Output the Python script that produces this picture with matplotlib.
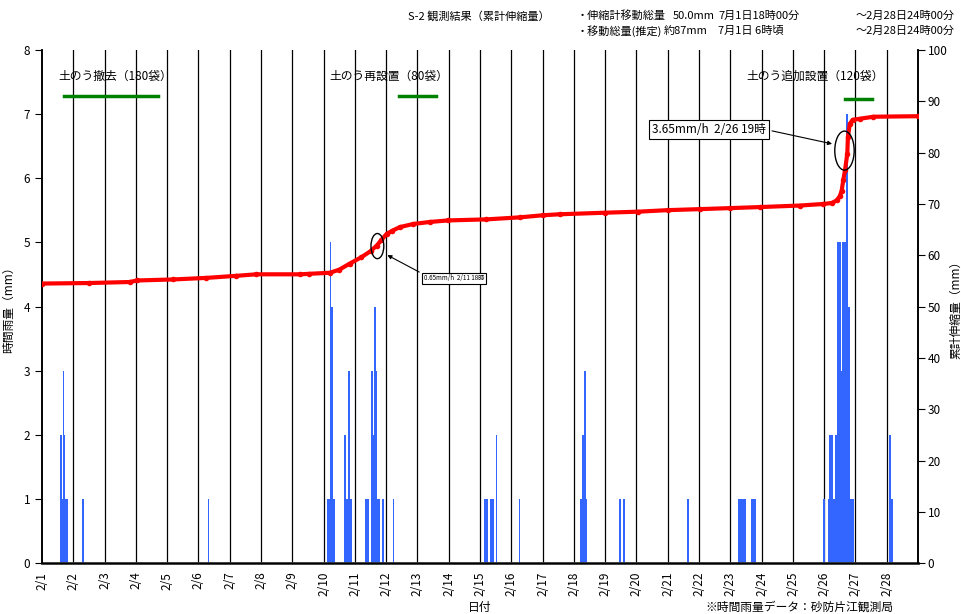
import numpy as np
import matplotlib
matplotlib.use('Agg')
import matplotlib.pyplot as plt
from matplotlib.patches import Ellipse

plt.rcParams['font.family'] = ['Noto Sans CJK JP', 'DejaVu Sans']

# 日付ラベル (2/1 ~ 2/28)
day_labels = [f"2/{d}" for d in range(1, 29)]

# 時間雨量 (日インデックス, 時, mm)
rain_day = ([0] * 6 + [1, 5]
            + [9] * 12
            + [10] * 11 + [11]
            + [14] * 7 + [15]
            + [17] * 5 + [18, 18, 20]
            + [22] * 10
            + [24] + [25] * 21
            + [27] * 3)
rain_hour = ([14, 15, 16, 17, 18, 19] + [7, 7]
             + [3, 4, 5, 6, 7, 8, 16, 17, 18, 19, 20, 21]
             + [8, 9, 10, 12, 13, 14, 15, 16, 17, 18, 21] + [5]
             + [3, 4, 5, 8, 9, 10, 12] + [6]
             + [5, 6, 7, 8, 9] + [11, 14, 15]
             + [6, 7, 8, 9, 10, 11, 16, 17, 18, 19]
             + [23] + [0, 3, 4, 5, 6, 7, 8, 9, 10, 11, 12, 13, 14, 15, 16, 17, 18, 19, 20, 21, 22]
             + [2, 3, 4])
rain_mm = ([2, 1, 3, 2, 1, 1] + [1, 1]
           + [1, 1, 5, 4, 1, 1, 2, 1, 1, 3, 1, 1]
           + [1, 1, 1, 3, 3, 2, 4, 3, 1, 1, 1] + [1]
           + [1, 1, 1, 1, 1, 1, 2] + [1]
           + [1, 2, 2, 3, 1] + [1, 1, 1]
           + [1] * 10
           + [1] + [1, 1, 2, 2, 2, 1, 2, 2, 5, 5, 5, 3, 5, 5, 5, 7, 4, 4, 1, 1, 1]
           + [2, 1, 1])

# 累計伸縮量 (日インデックス, mm)
disp_day = [0, 1.5, 2.8, 3.05, 4.2, 5.25, 6.2, 6.85, 8.25, 8.55, 9.2, 9.5,
            9.84, 10.2, 10.5, 10.7, 10.85, 11.02, 11.2, 11.44, 11.86, 12.4,
            12.98, 14.2, 15.28, 16.0, 16.56, 18.0, 19.05, 20.0, 21.03, 22.0,
            22.95, 24.23, 24.97, 25.25, 25.4, 25.5, 25.56, 25.61, 25.67,
            25.74, 25.76, 25.82, 25.91, 26.14, 26.57, 28.0]
disp_mm = [54.5, 54.6, 54.8, 55.1, 55.3, 55.6, 56.0, 56.3, 56.3, 56.4, 56.6,
           57.2, 58.4, 59.6, 60.8, 61.9, 63.0, 64.2, 64.8, 65.5, 66.1, 66.5,
           66.8, 67.0, 67.4, 67.8, 68.0, 68.3, 68.5, 68.8, 69.0, 69.2, 69.4,
           69.7, 70.0, 70.2, 70.7, 71.5, 72.6, 74.6, 76.7, 79.8, 83.0, 85.6,
           86.4, 86.6, 87.0, 87.1]

# 土のう作業の期間 (日インデックス)
work_labels = ['土のう撤去（180袋）', '土のう再設置（80袋）', '土のう追加設置（120袋）']
work_start = [0.70, 11.41, 25.66]
work_end = [3.71, 12.59, 26.53]

W, H = 962, 614
fig = plt.figure(figsize=(W / 100, H / 100), dpi=100)
ax = fig.add_axes([42 / W, 1 - 563.3 / H, 876 / W, (563.3 - 50) / H])
ax2 = ax.twinx()

# 日ごとの縦線
for d in range(1, 28):
    ax.axvline(d, color='black', lw=0.9, zorder=1)

rain_x = np.array(rain_day) + np.array(rain_hour) / 24.0
ax.bar(rain_x, rain_mm, width=1 / 24, align='edge', color='#3366FF',
       linewidth=0, zorder=2)

ax.set_xlim(0, 28)
ax.set_ylim(0, 8)
ax.set_yticks(range(0, 9))
ax.set_xticks(range(0, 28))
ax.set_xticklabels(day_labels, rotation=90, fontsize=8.5)
ax.tick_params(axis='x', length=0, pad=6)
ax.tick_params(axis='y', direction='out', length=5, labelsize=8.5)
ax.set_ylabel('時間雨量（mm）', fontsize=8.5)
ax.yaxis.set_label_coords(-0.031, 0.5)

ax2.set_ylim(0, 100)
ax2.set_yticks(range(0, 101, 10))
ax2.tick_params(axis='y', direction='out', length=5, labelsize=8.5, pad=2)
ax2.set_ylabel('累計伸縮量（mm）', fontsize=8.5, rotation=90)
ax2.yaxis.set_label_coords(1.036, 0.5)

ax2.plot(disp_day, disp_mm, color='#FF0000', lw=3, marker='o', ms=4,
         mew=0, zorder=3)

for a in (ax, ax2):
    a.spines['top'].set_visible(False)
    a.spines['left'].set_linewidth(1.2)
    a.spines['right'].set_linewidth(1.2)
ax.spines['bottom'].set_linewidth(2)
ax.spines['bottom'].set_color('#333333')

# 土のう作業
ax2.plot([work_start[0], work_end[0]], [91, 91], color='#008000', lw=2.5)
ax2.plot([work_start[1], work_end[1]], [91, 91], color='#008000', lw=2.5)
ax2.plot([work_start[2], work_end[2]], [90.5, 90.5], color='#008000', lw=2.5)
ax2.text(0.52, 94.8, work_labels[0], fontsize=8.5, va='center', ha='left')
ax2.text(9.2, 94.8, work_labels[1], fontsize=8.5, va='center', ha='left')
ax2.text(22.5, 94.8, work_labels[2], fontsize=8.5, va='center', ha='left')

# 変位速度の注記
ax2.add_patch(Ellipse((10.72, 61.8), 0.41, 4.9, fill=False, ec='black', lw=1, zorder=4))
ax2.add_patch(Ellipse((25.65, 80.4), 0.62, 7.6, fill=False, ec='black', lw=1, zorder=4))
ax2.annotate('0.65mm/h  2/11 18時', xy=(10.96, 60.3), xytext=(12.2, 55.5),
             fontsize=4.5, ha='left', va='center',
             bbox=dict(boxstyle='square,pad=0.25', fc='white', ec='black', lw=0.8),
             arrowprops=dict(arrowstyle='-|>', color='black', lw=0.8,
                             relpos=(0, 1), mutation_scale=6))
ax2.annotate('3.65mm/h  2/26 19時', xy=(25.34, 81.6), xytext=(19.5, 84.5),
             fontsize=8.5, ha='left', va='center',
             bbox=dict(boxstyle='square,pad=0.25', fc='white', ec='black', lw=0.8),
             arrowprops=dict(arrowstyle='-|>', color='black', lw=0.8,
                             relpos=(1, 0.5), mutation_scale=6))

# 見出し
fs = 8
y1, y2 = 1 - 16 / H, 1 - 31 / H
fig.text(408 / W, y1, 'S-2 観測結果（累計伸縮量）', fontsize=fs, va='center', ha='left')
fig.text(577 / W, y1, '・伸縮計移動総量', fontsize=fs, va='center', ha='left')
fig.text(673 / W, y1, '50.0mm', fontsize=fs, va='center', ha='left')
fig.text(718 / W, y1, '7月1日18時00分', fontsize=fs, va='center', ha='left')
fig.text(955 / W, y1, '～2月28日24時00分', fontsize=fs, va='center', ha='right')
fig.text(577 / W, y2, '・移動総量(推定)', fontsize=fs, va='center', ha='left')
fig.text(664 / W, y2, '約87mm', fontsize=fs, va='center', ha='left')
fig.text(718 / W, y2, '7月1日 6時頃', fontsize=fs, va='center', ha='left')
fig.text(955 / W, y2, '～2月28日24時00分', fontsize=fs, va='center', ha='right')

fig.text(480 / W, 1 - 607 / H, '日付', fontsize=8.5, va='center', ha='center')
fig.text(893 / W, 1 - 607 / H, '※時間雨量データ：砂防片江観測局', fontsize=8.5, va='center', ha='right')

fig.savefig('out.png', dpi=100)
